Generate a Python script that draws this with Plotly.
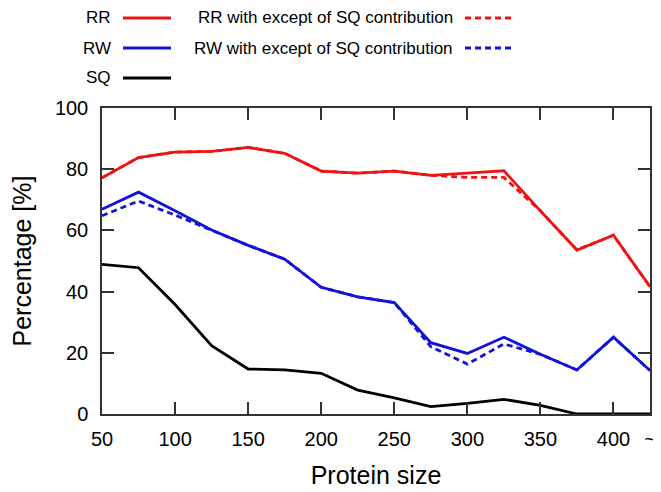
import plotly.graph_objects as go

# protein size bins (425 is the open-ended "~" bin)
size = [50, 75, 100, 125, 150, 175, 200, 225, 250, 275, 300, 325, 350, 375, 400, 425]
tick_vals = [50, 100, 150, 200, 250, 300, 350, 400, 425]
tick_text = ['50', '100', '150', '200', '250', '300', '350', '400', '~']

rr = [77.2, 83.8, 85.6, 85.8, 87.1, 85.2, 79.4, 78.7, 79.4, 78.0, 78.7, 79.5, 66.4, 53.6, 58.4, 41.6]
rw = [66.9, 72.5, 66.4, 60.1, 55.1, 50.6, 41.4, 38.3, 36.4, 23.3, 19.8, 25.1, 19.5, 14.4, 25.1, 14.2]
sq = [48.9, 47.8, 35.8, 22.3, 14.7, 14.4, 13.3, 7.8, 5.3, 2.4, 3.5, 4.8, 2.8, 0.0, 0.0, 0.0]
rr_no_sq = [77.2, 83.8, 85.6, 85.8, 87.1, 85.2, 79.4, 78.7, 79.4, 78.0, 77.3, 77.3, 66.4, 53.6, 58.4, 41.6]
rw_no_sq = [64.8, 69.6, 65.0, 60.1, 55.1, 50.6, 41.4, 38.3, 36.4, 22.0, 16.3, 22.9, 19.5, 14.4, 25.1, 14.2]

RED = 'rgb(238,20,20)'
BLUE = 'rgb(18,18,216)'
BLACK = 'black'
W = 2.8
DASH = '6px,4px'

fig = go.Figure()
fig.add_trace(go.Scatter(x=size, y=rr_no_sq, mode='lines', line=dict(color=RED, width=W, dash=DASH)))
fig.add_trace(go.Scatter(x=size, y=rw_no_sq, mode='lines', line=dict(color=BLUE, width=W, dash=DASH)))
fig.add_trace(go.Scatter(x=size, y=rr, mode='lines', line=dict(color=RED, width=W)))
fig.add_trace(go.Scatter(x=size, y=rw, mode='lines', line=dict(color=BLUE, width=W)))
fig.add_trace(go.Scatter(x=size, y=sq, mode='lines', line=dict(color=BLACK, width=W)))

# page has an 8px body margin, so the figure is drawn 8px in from the corner
OFF = 8
# plot box in window pixels
X0, X1, Y0, Y1 = 102, 650, 108, 414
PW, PH = X1 - X0, Y1 - Y0


def px(x):
    return (x - X0) / PW


def py(y):
    return (Y1 - y) / PH


# hand made legend (text on the left of the line sample)
legend = [
    ('RR', 113, 123, 171, 18, RED, 'solid'),
    ('RW', 113, 123, 171, 48, BLUE, 'solid'),
    ('SQ', 113, 123, 171, 78, BLACK, 'solid'),
    ('RR with except of SQ contribution', 455, 465, 513, 18, RED, DASH),
    ('RW with except of SQ contribution', 455, 465, 513, 48, BLUE, DASH),
]
for text, tx, x0, x1, y, col, dash in legend:
    fig.add_annotation(x=px(tx), y=py(y), xref='paper', yref='paper', text=text, showarrow=False,
                       xanchor='right', yanchor='middle', font=dict(size=17, color='black'))
    fig.add_shape(type='line', xref='paper', yref='paper', x0=px(x0), x1=px(x1), y0=py(y), y1=py(y),
                  line=dict(color=col, width=W, dash=dash))

axis_common = dict(showline=True, linecolor='#333333', linewidth=1.5, mirror='ticks', ticks='inside',
                   ticklen=12, tickwidth=1.5, tickcolor='#333333', showgrid=False, zeroline=False,
                   tickfont=dict(size=20, color='black'))

fig.update_xaxes(range=[50, 425], tickvals=tick_vals, ticktext=tick_text,
                 title=dict(text='Protein size', font=dict(size=25, color='black'), standoff=18),
                 ticklabelstandoff=6, **axis_common)
fig.update_yaxes(range=[0, 100], tickvals=[0, 20, 40, 60, 80, 100],
                 title=dict(text='Percentage [%]', font=dict(size=25, color='black'), standoff=22),
                 ticklabelstandoff=8, **axis_common)

fig.update_layout(width=661 - OFF, height=492 - OFF,
                  margin=dict(l=X0 - OFF, r=661 - X1, t=Y0 - OFF, b=492 - Y1, autoexpand=False),
                  showlegend=False, plot_bgcolor='white', paper_bgcolor='white',
                  font=dict(family='Liberation Sans, Arial, sans-serif', color='black'))

fig.write_html('out.html')
